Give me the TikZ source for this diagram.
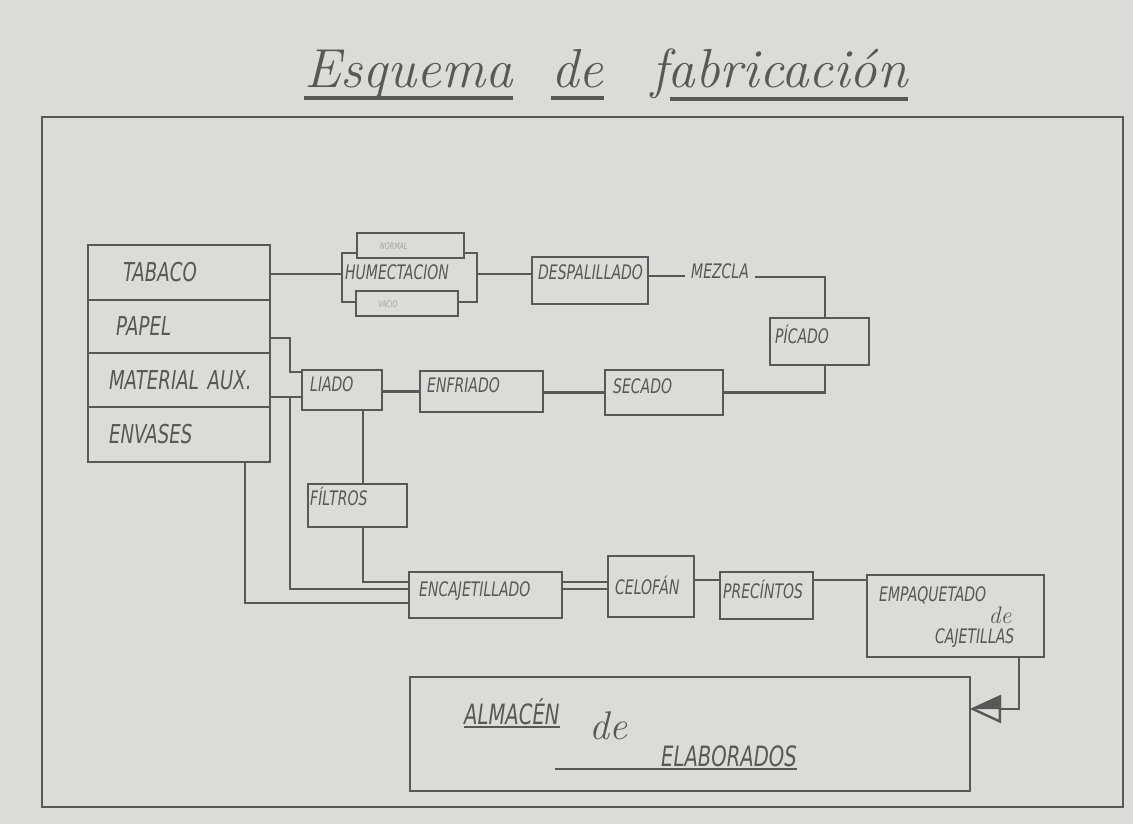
\documentclass[tikz,border=0pt]{standalone}
\usepackage{fontspec}
\newfontfamily\hand[FakeStretch=0.7]{DejaVu Sans}
\usetikzlibrary{positioning,arrows.meta}
\definecolor{paper}{RGB}{219,219,216}
\definecolor{ink}{RGB}{88,88,88}

\begin{document}
\begin{tikzpicture}[x=1pt,y=-1pt,
boxnode/.style={rectangle, draw=ink, line width=2.6pt, inner sep=0pt, outer sep=0pt},
srcnode/.style={boxnode, minimum width=182pt, text width=164pt, align=left, text=ink, font=\hand\itshape\fontsize{26}{26}\selectfont},
txtnode/.style={anchor=west, inner sep=0pt, text=ink, text height=14.5pt, text depth=0pt, font=\hand\itshape\fontsize{20}{20}\selectfont},
bigtxt/.style={txtnode, text height=20pt, font=\hand\itshape\fontsize{28}{28}\selectfont},
tinytxt/.style={txtnode, text=ink!55, text height=6.5pt, font=\hand\itshape\fontsize{9}{9}\selectfont},
handde/.style={inner sep=0pt, text=ink, font=\itshape\fontsize{24}{24}\selectfont},
titlenode/.style={anchor=base west, inner sep=0pt, text=ink, font=\itshape\fontsize{55}{55}\selectfont},
link/.style={draw=ink, line width=2.4pt},
uline/.style={draw=ink, line width=2.2pt}
]
\fill[paper] (0,0) rectangle (1133,824);
\useasboundingbox (0,0) rectangle (1133,824);
\draw[ink, line width=2.2pt] (42,117) rectangle (1123,807);
%Title
\node[titlenode] (tesq) at (304,88) {Esquema};
\node[titlenode] (tde)  at (551,88) {de};
\node[titlenode] (tfab) at (651,88) {fabricación};
\draw[uline, line width=3.5pt] ([yshift=-10pt]tesq.base west) -- ([yshift=-10pt]tesq.base east);
\draw[uline, line width=3.5pt] ([yshift=-10pt]tde.base west) -- ([yshift=-10pt]tde.base east);
\draw[uline, line width=3.5pt] ([yshift=-11pt,xshift=19pt]tfab.base west) -- ([yshift=-11pt]tfab.base east);
%Nodes
\node[srcnode, minimum height=55pt] (tabaco) at (179,272.5) {\hspace*{26pt}TABACO};
\node[srcnode, minimum height=53pt, below=0pt of tabaco] (papel) {\hspace*{19pt}PAPEL};
\node[srcnode, minimum height=54pt, below=0pt of papel] (maux) {\hspace*{12pt}MATERIAL AUX.};
\node[srcnode, minimum height=55pt, below=0pt of maux] (envases) {\hspace*{12pt}ENVASES};

\node[boxnode, minimum width=107pt, minimum height=25pt] (normal) at (410.5,245.5) {};
\node[tinytxt] (normalt) at (380,246) {NORMAL};
\node[boxnode, minimum width=102pt, minimum height=25pt] (vacio) at (407,303.5) {};
\node[tinytxt] (vaciot) at (378,304) {VACIO};
\node[txtnode] (humect) at (345,272) {HUMECTACION};
\coordinate (hl) at (342,274);
\coordinate (hr) at (477,274);

\node[boxnode, minimum width=116pt, minimum height=47pt] (desp) at (590,280.5) {};
\node[txtnode] (despt) at (538,272) {DESPALILLADO};
\node[txtnode, anchor=center, inner xsep=6pt] (mezcla) at (720,271) {MEZCLA};
\node[boxnode, minimum width=99pt, minimum height=47pt] (picado) at (819.5,341.5) {};
\node[txtnode] (picadot) at (775,336) {PÍCADO};

\node[boxnode, minimum width=80pt, minimum height=40pt] (liado) at (342,390) {};
\node[txtnode] (liadot) at (310,384) {LIADO};
\node[boxnode, minimum width=123pt, minimum height=41pt] (enfriado) at (481.5,391.5) {};
\node[txtnode] (enfriadot) at (427,385) {ENFRIADO};
\node[boxnode, minimum width=118pt, minimum height=45pt] (secado) at (664,392.5) {};
\node[txtnode] (secadot) at (613,386) {SECADO};
\node[boxnode, minimum width=99pt, minimum height=43pt] (filtros) at (357.5,505.5) {};
\node[txtnode] (filtrost) at (310,498) {FÍLTROS};

\node[boxnode, minimum width=153pt, minimum height=46pt] (encaj) at (485.5,595) {};
\node[txtnode] (encajt) at (419,589) {ENCAJETILLADO};
\node[boxnode, minimum width=86pt, minimum height=61pt] (celofan) at (651,586.5) {};
\node[txtnode] (celofant) at (615,587) {CELOFÁN};
\node[boxnode, minimum width=93pt, minimum height=47pt] (precintos) at (766.5,595.5) {};
\node[txtnode] (precintost) at (723,591) {PRECÍNTOS};
\node[boxnode, minimum width=177pt, minimum height=82pt] (empaq) at (955.5,616) {};
\node[txtnode] (empaqt) at (879,594) {EMPAQUETADO};
\node[handde] (empaqde) at (1000,615) {de};
\node[txtnode] (cajet) at (935,636) {CAJETILLAS};

\node[boxnode, minimum width=560pt, minimum height=114pt] (almacen) at (690,734) {};
\node[bigtxt] (almacent) at (464,714) {ALMACÉN};
\node[handde, font=\itshape\fontsize{40}{40}\selectfont] (almacende) at (608,726) {de};
\node[bigtxt] (elabt) at (661,756) {ELABORADOS};
\draw[uline] ([yshift=-3pt]almacent.south west) -- ([yshift=-3pt]almacent.south east);
\draw[uline] ([yshift=-3pt,xshift=-106pt]elabt.south west) -- ([yshift=-3pt]elabt.south east);
%Lines
\draw[link] (normal.west |- 0,253) -| (hl) |- (vacio.west |- 0,302);
\draw[link] (normal.east |- 0,253) -| (hr) |- (vacio.east |- 0,302);
\draw[link] (tabaco.east |- hl) -- (hl);
\draw[link] (hr) -- (desp.west |- hr);
\draw[link] (desp.east |- 0,276) -- (mezcla.west |- 0,276);
\draw[link] (mezcla.east |- 0,277) -| ([xshift=5.5pt]picado.north);
\draw[link] ([xshift=5.5pt]picado.south) |- (secado.east);
\draw[link] (secado.west) -- (secado.west -| enfriado.east);
\draw[link] (enfriado.west) -- (enfriado.west -| liado.east);
\coordinate (pj) at (290,372);
\coordinate (mj) at (290,397);
\draw[link] (papel.east |- 0,338) -| (pj) -- (liado.west |- pj);
\draw[link] (maux.east |- mj) -- (liado.west |- mj);
\draw[link] (mj) |- (encaj.west |- 0,589);
\draw[link] (envases.south -| 245,0) |- (encaj.west |- 0,603);
\draw[link] (liado.south -| 363,0) -- (filtros.north -| 363,0);
\draw[link] (filtros.south -| 363,0) |- (encaj.west |- 0,582);
\draw[link] (encaj.east |- 0,582) -- (celofan.west |- 0,582);
\draw[link] (encaj.east |- 0,589) -- (celofan.west |- 0,589);
\draw[link] (celofan.east |- 0,580) -- (precintos.west |- 0,580);
\draw[link] (precintos.east |- 0,580) -- (empaq.west |- 0,580);
\draw[link, -{Triangle[open, length=31pt, width=28pt]}] (empaq.south -| 1019,0) |- (almacen.east |- 0,709);
\fill[ink] (almacen.east |- 0,709) -- ++(31,-14) -- ++(0,14) -- cycle;
\end{tikzpicture}
\end{document}
